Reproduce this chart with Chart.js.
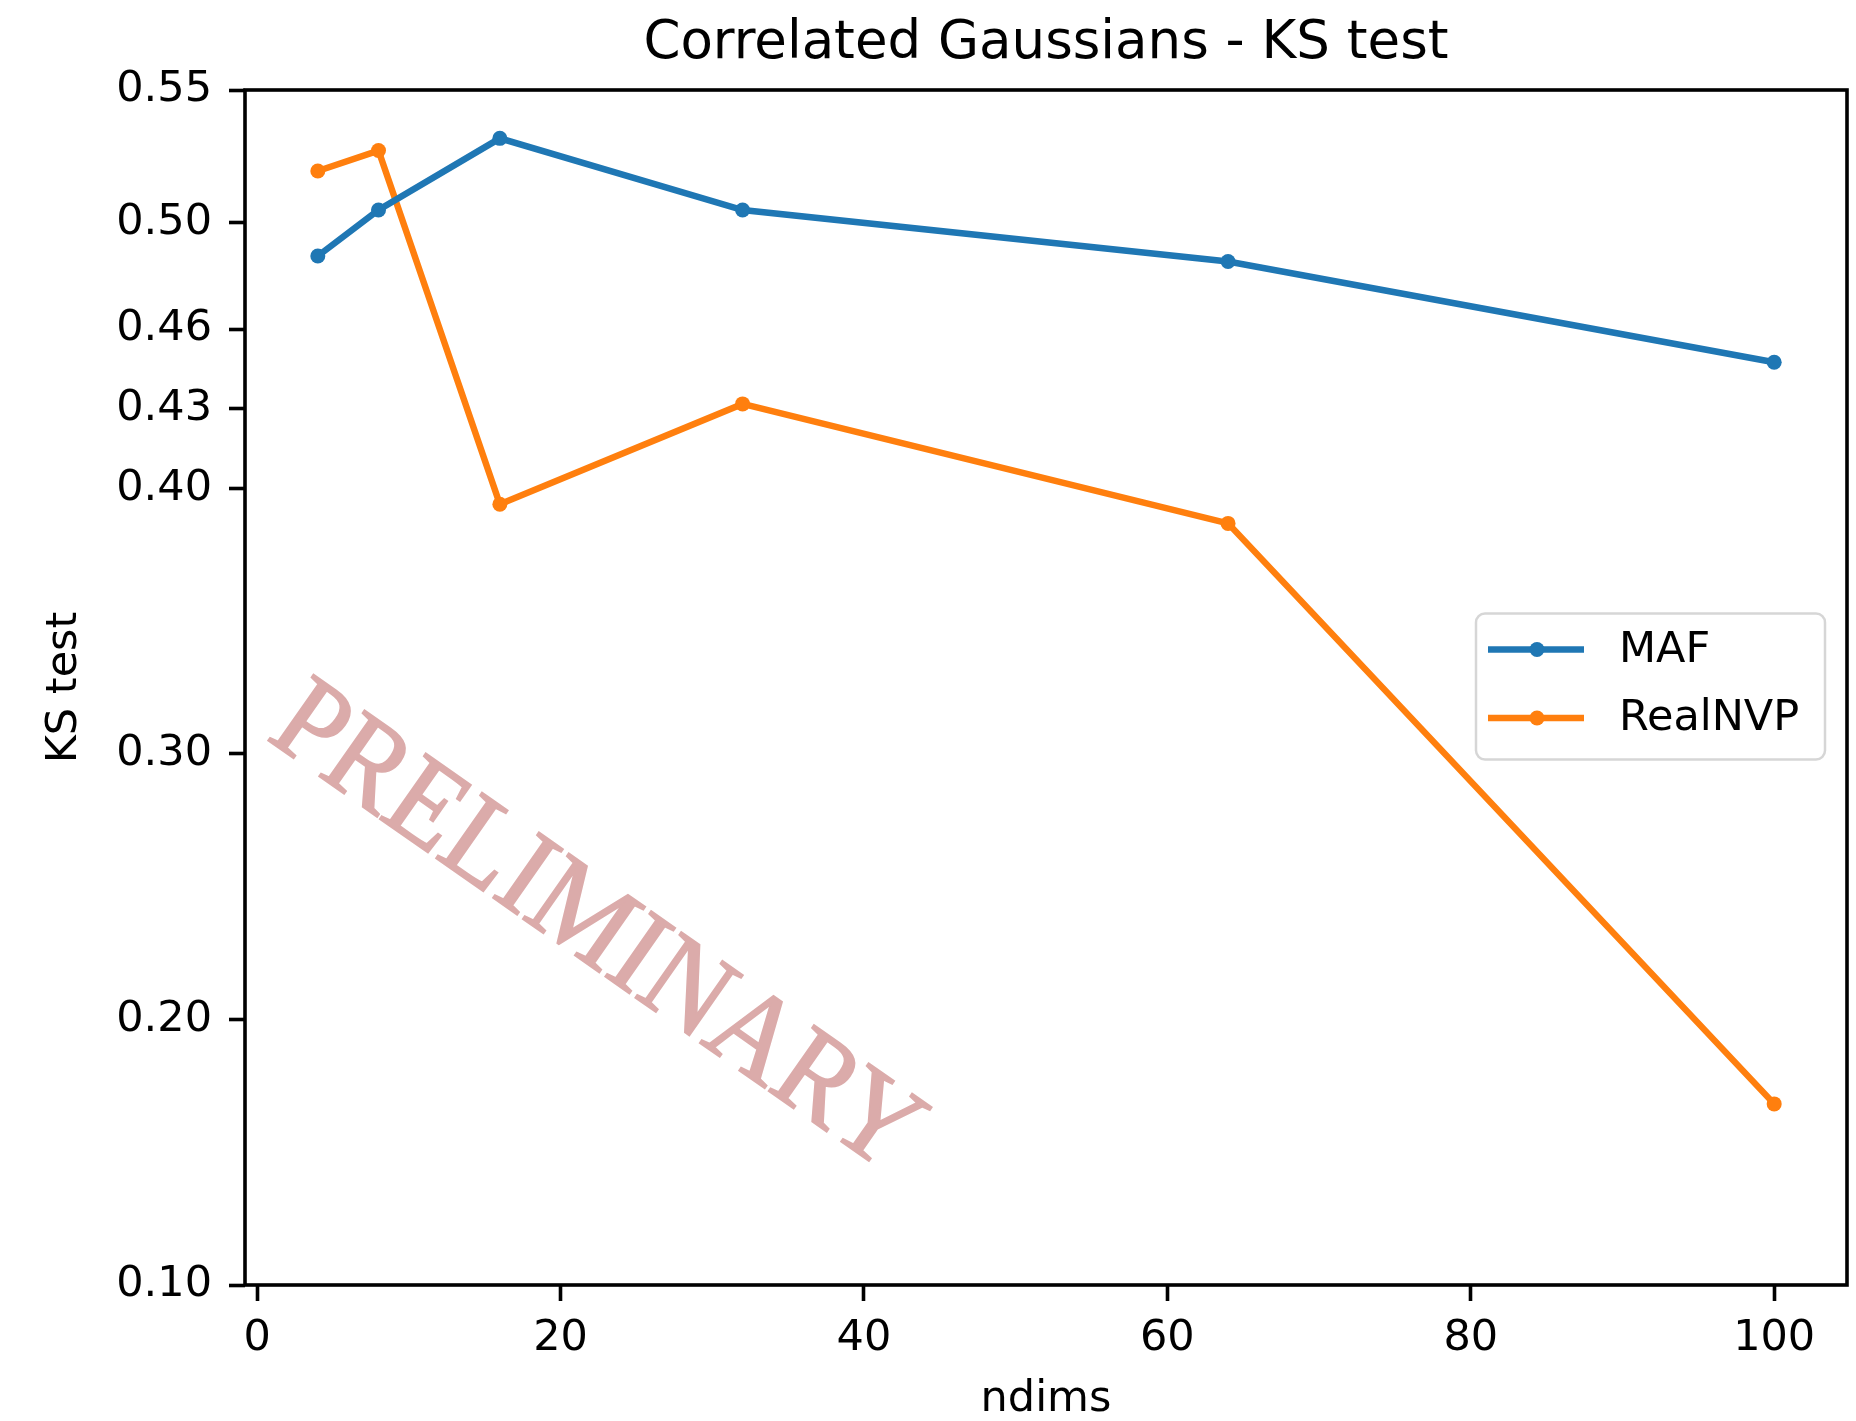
<!DOCTYPE html>
<html lang="en">
<head>
    <meta charset="UTF-8">
    <title>Correlated Gaussians - KS test</title>
    <script src="https://cdn.jsdelivr.net/npm/chart.js@4.4.1/dist/chart.umd.min.js"></script>
    <style>
        body {
            margin: 0;
            padding: 0;
            background: #ffffff;
        }
        .chart-box {
            width: 1856px;
            height: 1421px;
            position: relative;
        }
    </style>
</head>
<body>
    <div class="chart-box">
        <canvas id="ksChart"></canvas>
    </div>

    <script>
        // Values
        const ndims = [4, 8, 16, 32, 64, 100];
        const mafKS = [0.4875, 0.5048, 0.5318, 0.5048, 0.4854, 0.4475];
        const realnvpKS = [0.5195, 0.5272, 0.394, 0.4318, 0.3868, 0.1682];
        const yTicks = [0.10, 0.20, 0.30, 0.40, 0.43, 0.46, 0.50, 0.55];
        const xTicks = [0, 20, 40, 60, 80, 100];

        const FONT = "'DejaVu Sans', sans-serif";

        function toPoints(xs, ys) {
            return xs.map((x, i) => ({ x: x, y: ys[i] }));
        }

        // Title centred over the axes, box spines, legend and watermark
        const decorations = {
            id: 'decorations',
            beforeDatasetsDraw(chart) {
                const ctx = chart.ctx;
                const a = chart.chartArea;
                // watermark
                ctx.save();
                ctx.translate(a.left + 0.2184 * (a.right - a.left), a.top + 0.703 * (a.bottom - a.top));
                ctx.rotate(35 * Math.PI / 180);
                ctx.scale(0.92, 1);
                ctx.fillStyle = '#dbabaa';
                ctx.strokeStyle = '#dbabaa';
                ctx.lineWidth = 2;
                ctx.font = "122px 'Liberation Serif', serif";
                ctx.textAlign = 'center';
                ctx.textBaseline = 'middle';
                ctx.fillText('PRELIMINARY', 0, 0);
                ctx.strokeText('PRELIMINARY', 0, 0);
                ctx.restore();
            },
            afterDraw(chart) {
                const ctx = chart.ctx;
                const a = chart.chartArea;
                ctx.save();
                // frame
                ctx.strokeStyle = '#000';
                ctx.lineWidth = 3.6;
                ctx.strokeRect(a.left, a.top, a.right - a.left, a.bottom - a.top);

                // title
                ctx.fillStyle = '#000';
                ctx.font = '53px ' + FONT;
                ctx.textAlign = 'center';
                ctx.textBaseline = 'middle';
                ctx.fillText('Correlated Gaussians - KS test', (a.left + a.right) / 2, 44);

                // legend (center right)
                const w = 349, h = 146;
                const x0 = a.right - 22 - w;
                const y0 = (a.top + a.bottom) / 2 - h / 2 - 1;
                ctx.beginPath();
                ctx.roundRect(x0, y0, w, h, 9);
                ctx.fillStyle = 'rgba(255,255,255,0.8)';
                ctx.fill();
                ctx.strokeStyle = '#d6d6d6';
                ctx.lineWidth = 2.5;
                ctx.stroke();

                chart.data.datasets.forEach((ds, i) => {
                    const yy = y0 + 36 + i * 68.5;
                    ctx.strokeStyle = ds.borderColor;
                    ctx.lineWidth = ds.borderWidth;
                    ctx.beginPath();
                    ctx.moveTo(x0 + 12, yy);
                    ctx.lineTo(x0 + 108, yy);
                    ctx.stroke();
                    ctx.fillStyle = ds.borderColor;
                    ctx.beginPath();
                    ctx.arc(x0 + 61, yy, ds.pointRadius, 0, Math.PI * 2);
                    ctx.fill();
                    ctx.fillStyle = '#000';
                    ctx.font = '43px ' + FONT;
                    ctx.textAlign = 'left';
                    ctx.textBaseline = 'middle';
                    ctx.fillText(ds.label, x0 + 143, yy + 1);
                });
                ctx.restore();
            }
        };

        const ctx = document.getElementById('ksChart').getContext('2d');

        new Chart(ctx, {
            type: 'line',
            data: {
                datasets: [{
                    label: 'MAF',
                    data: toPoints(ndims, mafKS),
                    borderColor: '#1f77b4',
                    backgroundColor: '#1f77b4',
                    pointBackgroundColor: '#1f77b4',
                    borderWidth: 6.5,
                    pointRadius: 7.5,
                    pointBorderWidth: 0,
                    tension: 0
                }, {
                    label: 'RealNVP',
                    data: toPoints(ndims, realnvpKS),
                    borderColor: '#ff7f0e',
                    backgroundColor: '#ff7f0e',
                    pointBackgroundColor: '#ff7f0e',
                    borderWidth: 6.5,
                    pointRadius: 7.5,
                    pointBorderWidth: 0,
                    tension: 0
                }]
            },
            options: {
                responsive: true,
                maintainAspectRatio: false,
                animation: false,
                layout: {
                    padding: { top: 90, right: 9, left: 0, bottom: 0 }
                },
                plugins: {
                    legend: { display: false },
                    title: { display: false },
                    tooltip: { enabled: false }
                },
                scales: {
                    x: {
                        type: 'linear',
                        min: -0.8,
                        max: 104.8,
                        afterBuildTicks: scale => {
                            scale.ticks = xTicks.map(v => ({ value: v }));
                        },
                        afterFit: scale => { scale.height = 136; },
                        border: { display: false },
                        grid: {
                            display: true,
                            drawOnChartArea: false,
                            drawTicks: true,
                            tickLength: 16,
                            tickWidth: 3.6,
                            tickColor: '#000'
                        },
                        ticks: {
                            color: '#000',
                            padding: 12,
                            maxRotation: 0,
                            font: { family: FONT, size: 43 },
                            callback: v => String(v)
                        },
                        title: {
                            display: true,
                            text: 'ndims',
                            color: '#000',
                            font: { family: FONT, size: 43, lineHeight: 1 },
                            padding: { top: 3, bottom: 0 }
                        }
                    },
                    y: {
                        type: 'linear',
                        min: 0.10,
                        max: 0.55,
                        afterBuildTicks: scale => {
                            scale.ticks = yTicks.map(v => ({ value: v }));
                        },
                        afterFit: scale => { scale.width = 245; },
                        border: { display: false },
                        grid: {
                            display: true,
                            drawOnChartArea: false,
                            drawTicks: true,
                            tickLength: 16,
                            tickWidth: 3.6,
                            tickColor: '#000'
                        },
                        ticks: {
                            color: '#000',
                            padding: 17,
                            font: { family: FONT, size: 43 },
                            callback: v => Number(v).toFixed(2)
                        },
                        title: {
                            display: true,
                            text: 'KS test',
                            color: '#000',
                            font: { family: FONT, size: 43, lineHeight: 1.2 },
                            padding: { top: 39, bottom: 0 }
                        }
                    }
                }
            },
            plugins: [decorations]
        });
    </script>
</body>
</html>
